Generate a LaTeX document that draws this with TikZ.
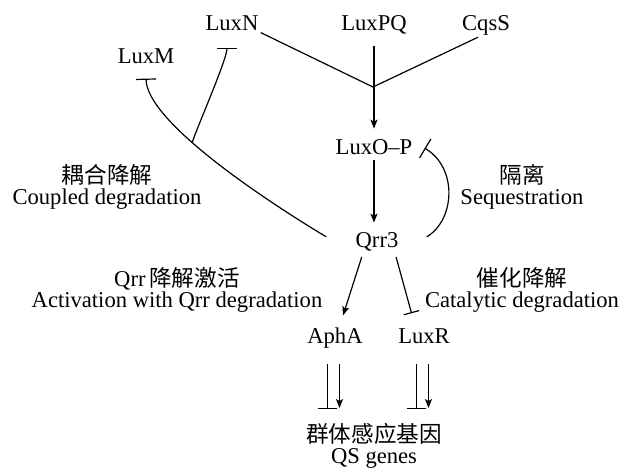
\documentclass[tikz,border=0pt]{standalone}
\usepackage{fontspec}
\setmainfont{Liberation Serif}
\newfontfamily\cjk{Noto Sans CJK SC}
\usetikzlibrary{arrows.meta}
\newcommand\tightlines{\lineskiplimit=-100pt\relax}

\begin{document}
\begin{tikzpicture}[x=0.5pt,y=-0.5pt]
\tikzstyle{every node} = [inner sep=1pt, font={\fontsize{11.3}{10.5}\selectfont\tightlines}]
\tikzstyle{act} = [-{Stealth[length=4.5pt,width=3.5pt,inset=1pt]}, line width=0.6pt]
\tikzstyle{inh} = [-{Bar[width=9.5pt]}, line width=0.6pt]
\tikzstyle{lbl} = [align=center]
\useasboundingbox (0,0) rectangle (627,468);

\node[anchor=base](LuxN) at (232,30) {LuxN};
\node[anchor=base](LuxPQ) at (374,30) {LuxPQ};
\node[anchor=base](CqsS) at (486,30) {CqsS};
\node[anchor=base](LuxM) at (146,63) {LuxM};
\node[anchor=base](LuxOP) at (374,154) {LuxO--P};
\node[anchor=base](Qrr) at (377,247) {Qrr3};
\node[anchor=base](AphA) at (335,343) {AphA};
\node[anchor=base](LuxR) at (424,343) {LuxR};
\node[lbl](QS) at (374,446) {{\cjk 群体感应基因}\\QS genes};

\node[lbl](coupled) at (107,187) {{\cjk 耦合降解}\\Coupled degradation};
\node[lbl](seq) at (522,187) {{\cjk 隔离}\\Sequestration};
\node[lbl](actdeg) at (177,290) {Qrr\,{\cjk 降解激活}\\Activation with Qrr degradation};
\node[lbl](catdeg) at (522,290) {{\cjk 催化降解}\\Catalytic degradation};

% signal input
\coordinate (jn) at (373,87);
\draw [line width=0.6pt] (LuxN.south east) -- (jn) -- ([xshift=-4pt]CqsS.south);
\foreach \from/\to in {LuxPQ/LuxOP}
\draw [act][shorten <=5pt, shorten >=4pt] (\from.south) -- (\to.north);
\draw [act][shorten <=1.5pt, shorten >=3.5pt] (LuxOP.south) -- (LuxOP.south |- Qrr.north);

% coupled degradation
\draw [inh][-{Bar[width=10pt]}] ([xshift=-13.5pt,yshift=2.25pt]Qrr.west) .. controls (265,200) and (147,122) .. coordinate[pos=0.6] (mcut) ([yshift=-6.5pt]LuxM.south);
\draw [inh][-{Bar[width=10pt]}] (mcut) to[out=74, in=-90, looseness=0.3] ([xshift=-2.5pt,yshift=-7.5pt]LuxN.south);

% sequestration
\draw [inh][-{Bar[width=11pt]}] ([xshift=13pt,yshift=2.25pt]Qrr.east) .. controls (455,220) and (458,168) .. ([xshift=5pt,yshift=-0.75pt]LuxOP.east);

% Qrr3 targets
\draw [act][shorten <=2pt, shorten >=5pt] ([xshift=-7pt]Qrr.south) -- ([xshift=2.5pt]AphA.north);
\draw [inh][-{Bar[width=8pt]}][shorten <=2pt, shorten >=6.5pt] ([xshift=9pt]Qrr.south) -- ([xshift=-4.5pt]LuxR.north);

\foreach \gene in {AphA, LuxR}
{
\draw [inh][shorten >=6pt] ([xshift=-3.75pt,yshift=-10.5pt]\gene.base) -- ([xshift=-3.75pt]\gene.base |- QS.north);
\draw [act][shorten >=6.5pt] ([xshift=2.25pt,yshift=-10.5pt]\gene.base) -- ([xshift=2.25pt]\gene.base |- QS.north);
}

\end{tikzpicture}
\end{document}
